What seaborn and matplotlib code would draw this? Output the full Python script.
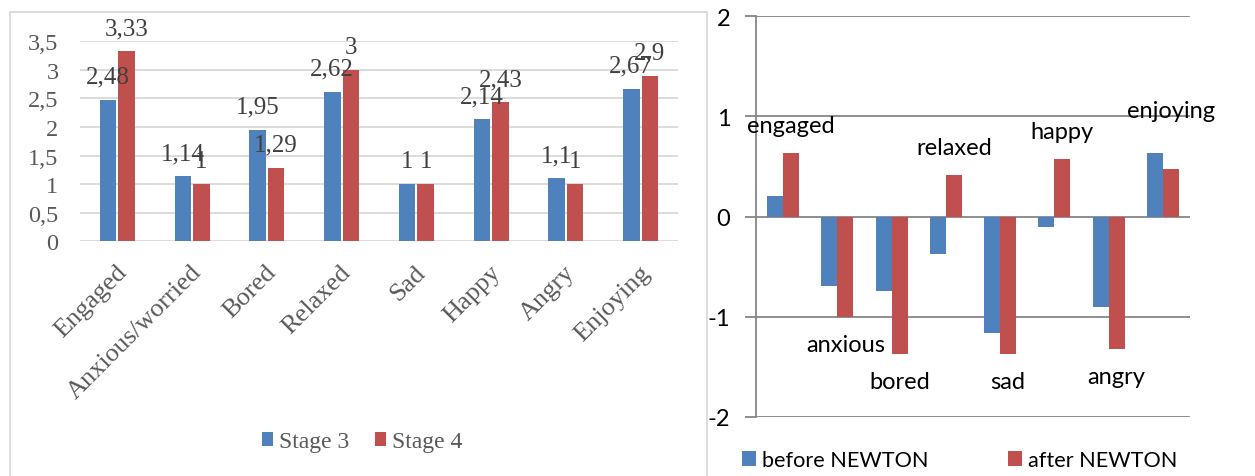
import numpy as np
import pandas as pd
import matplotlib
matplotlib.use("Agg")
import matplotlib.pyplot as plt
import matplotlib.transforms as mtransforms
from matplotlib.patches import Rectangle, Patch
import seaborn as sns

# ---------------- data ----------------
stage_categories = ["Engaged", "Anxious/worried", "Bored", "Relaxed", "Sad", "Happy", "Angry", "Enjoying"]
stage3_values = [2.48, 1.14, 1.95, 2.62, 1.0, 2.14, 1.1, 2.67]
stage4_values = [3.33, 1.0, 1.29, 3.0, 1.0, 2.43, 1.0, 2.9]
stage_series = ["Stage 3", "Stage 4"]
stage_yticks = [0, 0.5, 1, 1.5, 2, 2.5, 3, 3.5]

newton_categories = ["engaged", "anxious", "bored", "relaxed", "sad", "happy", "angry", "enjoying"]
before_newton = [0.20, -0.69, -0.74, -0.37, -1.16, -0.10, -0.90, 0.63]
after_newton = [0.63, -1.00, -1.37, 0.41, -1.37, 0.57, -1.32, 0.47]
newton_series = ["before NEWTON", "after NEWTON"]
newton_yticks = [-2, -1, 0, 1, 2]

BLUE = "#4F81BD"
RED = "#C0504D"
SERIF = "Liberation Serif"
SANS = "Lato"

W, H = 1255, 477
fig = plt.figure(figsize=(W / 100, H / 100), dpi=100)


def fx(px):
    return px / W


def fy(py):
    return 1 - py / H


def comma(v):
    return f"{v:g}".replace(".", ",")


# border around left chart
fig.add_artist(Rectangle((fx(10), -0.02), fx(697), fy(13) + 0.02, transform=fig.transFigure,
                         fill=False, edgecolor="#D9D9D9", linewidth=1.3))

# ---------------- left chart ----------------
df1 = pd.DataFrame({
    "category": stage_categories * 2,
    "value": stage3_values + stage4_values,
    "series": [stage_series[0]] * len(stage_categories) + [stage_series[1]] * len(stage_categories),
})
ax1 = fig.add_axes([fx(80), fy(242.3), fx(598), 200 / H])
sns.barplot(data=df1, x="category", y="value", hue="series", order=stage_categories,
            hue_order=stage_series, palette=[BLUE, RED], width=0.5, gap=0.12,
            saturation=1, errorbar=None, legend=False, ax=ax1)
ax1.set_xlim(-0.5, len(stage_categories) - 0.5)
ax1.set_ylim(0, 3.5)
for s in ax1.spines.values():
    s.set_visible(False)
ax1.set_axisbelow(True)
ax1.yaxis.grid(True, color="#D9D9D9", linewidth=1.3)
ax1.set_yticks(stage_yticks)
ax1.set_yticklabels([comma(v) for v in stage_yticks], fontsize=17.5, color="#595959", family=SERIF)
ax1.tick_params(axis="both", length=0)
ax1.tick_params(axis="y", pad=15.5)
ax1.set_xlabel("")
ax1.set_ylabel("")
ax1.set_xticks(range(len(stage_categories)))
ax1.set_xticklabels(stage_categories, rotation=45, ha="right", va="top", rotation_mode="anchor",
                    fontsize=19, color="#595959", family=SERIF)
ax1.tick_params(axis="x", pad=14)
shift = mtransforms.ScaledTranslation(-2 / 100, 0, fig.dpi_scale_trans)
for lab in ax1.get_xticklabels():
    lab.set_transform(lab.get_transform() + shift)

for cont, vals in zip(ax1.containers, [stage3_values, stage4_values]):
    for bar, v in zip(cont, vals):
        ax1.annotate(comma(v), (bar.get_x() + bar.get_width() / 2, bar.get_height()),
                     xytext=(0, 23), textcoords="offset pixels", ha="center", va="center",
                     fontsize=18, color="#404040", family=SERIF, annotation_clip=False)

for handle_x, label, col in [(261.6, stage_series[0], BLUE), (374.5, stage_series[1], RED)]:
    lg = fig.legend([Patch(facecolor=col)], [label], loc="center left",
                    bbox_to_anchor=(fx(handle_x), fy(443)), frameon=False, borderpad=0,
                    borderaxespad=0, handlelength=0.5, handleheight=0.5, handletextpad=0.25,
                    prop={"family": SERIF, "size": 17})
    for t in lg.get_texts():
        t.set_color("#595959")

# ---------------- right chart ----------------
df2 = pd.DataFrame({
    "category": newton_categories * 2,
    "value": before_newton + after_newton,
    "series": [newton_series[0]] * len(newton_categories) + [newton_series[1]] * len(newton_categories),
})
ax2 = fig.add_axes([fx(756), fy(417.7), fx(434), 400.4 / H])
sns.barplot(data=df2, x="category", y="value", hue="series", order=newton_categories,
            hue_order=newton_series, palette=[BLUE, RED], width=0.59, gap=0,
            saturation=1, errorbar=None, legend=False, ax=ax2)
ax2.set_xlim(-0.5, len(newton_categories) - 0.5)
ax2.set_ylim(-2, 2)
for name, s in ax2.spines.items():
    if name == "left":
        s.set_color("#868686")
        s.set_linewidth(1.3)
    else:
        s.set_visible(False)
ax2.set_axisbelow(True)
ax2.yaxis.grid(True, color="#868686", linewidth=1.3)
ax2.set_yticks(newton_yticks)
ax2.set_yticklabels([str(v) for v in newton_yticks], fontsize=17, color="black", family=SANS)
ax2.tick_params(axis="y", length=8, width=1.3, color="#868686", pad=10.5)
ax2.set_xticks([])
ax2.set_xlabel("")
ax2.set_ylabel("")

extra_lift = {"enjoying": 31}
for bar, v, name in zip(ax2.containers[1], after_newton, newton_categories):
    sign = 1 if v >= 0 else -1
    off = sign * (28 + extra_lift.get(name, 0))
    ax2.annotate(name, (bar.get_x() + bar.get_width() / 2, bar.get_height()),
                 xytext=(0, off), textcoords="offset pixels", ha="center", va="center",
                 fontsize=17, color="black", family=SANS, annotation_clip=False)

for handle_x, label, col in [(742, newton_series[0], BLUE), (1008, newton_series[1], RED)]:
    fig.legend([Patch(facecolor=col)], [label], loc="center left",
               bbox_to_anchor=(fx(handle_x), fy(461)), frameon=False, borderpad=0,
               borderaxespad=0, handlelength=0.64, handleheight=0.64, handletextpad=0.3,
               prop={"family": SANS, "size": 15.6})

fig.savefig("out.png", dpi=100)
